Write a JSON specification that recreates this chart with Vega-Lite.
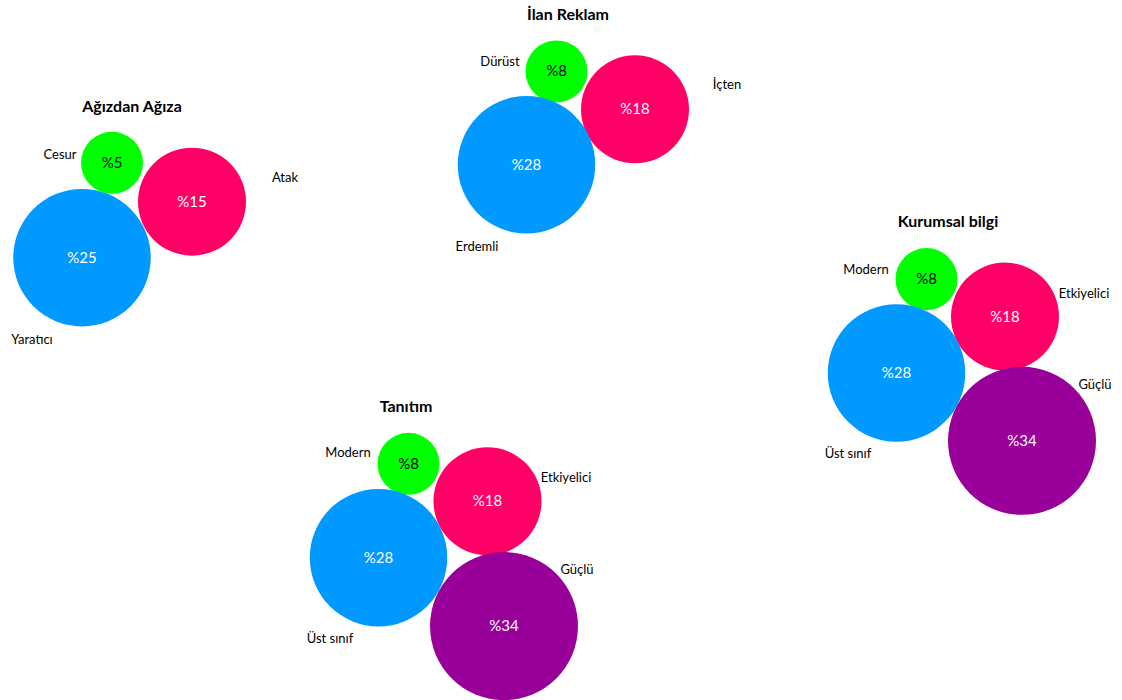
{
  "$schema": "https://vega.github.io/schema/vega-lite/v6.json",
  "width": 1122,
  "height": 700,
  "autosize": {"type": "fit", "contains": "padding"},
  "padding": 0,
  "background": "white",
  "config": {"view": {"stroke": null}},
  "datasets": {
    "bubbles": [
      {"group": "Ağızdan Ağıza", "trait": "Cesur", "value": 5, "tier": "a", "x": 112, "y": 163, "lx": 60, "ly": 155},
      {"group": "Ağızdan Ağıza", "trait": "Atak", "value": 15, "tier": "b", "x": 192, "y": 202, "lx": 285, "ly": 178},
      {"group": "Ağızdan Ağıza", "trait": "Yaratıcı", "value": 25, "tier": "c", "x": 82, "y": 258, "lx": 32, "ly": 340},
      {"group": "İlan Reklam", "trait": "Dürüst", "value": 8, "tier": "a", "x": 556.5, "y": 71.5, "lx": 500, "ly": 62},
      {"group": "İlan Reklam", "trait": "İçten", "value": 18, "tier": "b", "x": 635, "y": 109.5, "lx": 727, "ly": 85},
      {"group": "İlan Reklam", "trait": "Erdemli", "value": 28, "tier": "c", "x": 526.5, "y": 165, "lx": 477, "ly": 247},
      {"group": "Kurumsal bilgi", "trait": "Modern", "value": 8, "tier": "a", "x": 926.5, "y": 279.5, "lx": 866, "ly": 270},
      {"group": "Kurumsal bilgi", "trait": "Etkiyelici", "value": 18, "tier": "b", "x": 1005, "y": 317, "lx": 1084, "ly": 294},
      {"group": "Kurumsal bilgi", "trait": "Üst sınıf", "value": 28, "tier": "c", "x": 896.5, "y": 373.5, "lx": 848, "ly": 455},
      {"group": "Kurumsal bilgi", "trait": "Güçlü", "value": 34, "tier": "d", "x": 1022, "y": 441.5, "lx": 1095, "ly": 386},
      {"group": "Tanıtım", "trait": "Modern", "value": 8, "tier": "a", "x": 408.5, "y": 464.5, "lx": 348, "ly": 454},
      {"group": "Tanıtım", "trait": "Etkiyelici", "value": 18, "tier": "b", "x": 487.5, "y": 502, "lx": 566, "ly": 479},
      {"group": "Tanıtım", "trait": "Üst sınıf", "value": 28, "tier": "c", "x": 378.5, "y": 558.5, "lx": 330, "ly": 640},
      {"group": "Tanıtım", "trait": "Güçlü", "value": 34, "tier": "d", "x": 504, "y": 627, "lx": 577, "ly": 571}
    ],
    "titles": [
      {"group": "Ağızdan Ağıza", "x": 132, "y": 107},
      {"group": "İlan Reklam", "x": 568, "y": 15},
      {"group": "Kurumsal bilgi", "x": 948, "y": 222},
      {"group": "Tanıtım", "x": 406, "y": 408}
    ]
  },
  "layer": [
    {
      "data": {"name": "bubbles"},
      "mark": {"type": "circle", "opacity": 1},
      "encoding": {
        "x": {"field": "x", "type": "quantitative", "scale": {"domain": [0, 1122], "nice": false, "zero": false}, "axis": null},
        "y": {"field": "y", "type": "quantitative", "scale": {"domain": [0, 700], "nice": false, "zero": false, "reverse": true}, "axis": null},
        "size": {"field": "value", "type": "quantitative", "scale": {"type": "linear", "domain": [5, 8, 15, 18, 25, 28, 34], "range": [3844, 3844, 11664, 11664, 18906, 18906, 21904], "zero": false, "nice": false}, "legend": null},
        "color": {"field": "tier", "type": "nominal", "scale": {"domain": ["a", "b", "c", "d"], "range": ["#00FF00", "#FF0066", "#0099FF", "#990099"]}, "legend": null}
      }
    },
    {
      "data": {"name": "bubbles"},
      "transform": [{"calculate": "'%' + datum.value", "as": "vlabel"}],
      "mark": {"type": "text", "font": "Lato", "fontSize": 15, "baseline": "middle", "align": "center"},
      "encoding": {
        "x": {"field": "x", "type": "quantitative"},
        "y": {"field": "y", "type": "quantitative"},
        "text": {"field": "vlabel"},
        "color": {"condition": {"test": "datum.tier === 'a'", "value": "#000000"}, "value": "#FFFFFF"}
      }
    },
    {
      "data": {"name": "bubbles"},
      "mark": {"type": "text", "font": "Lato", "fontSize": 13, "baseline": "middle", "align": "center", "color": "#000000"},
      "encoding": {
        "x": {"field": "lx", "type": "quantitative"},
        "y": {"field": "ly", "type": "quantitative"},
        "text": {"field": "trait"}
      }
    },
    {
      "data": {"name": "titles"},
      "mark": {"type": "text", "font": "Lato", "fontSize": 16, "fontWeight": "bold", "baseline": "middle", "align": "center", "color": "#000000"},
      "encoding": {
        "x": {"field": "x", "type": "quantitative"},
        "y": {"field": "y", "type": "quantitative"},
        "text": {"field": "group"}
      }
    }
  ]
}
